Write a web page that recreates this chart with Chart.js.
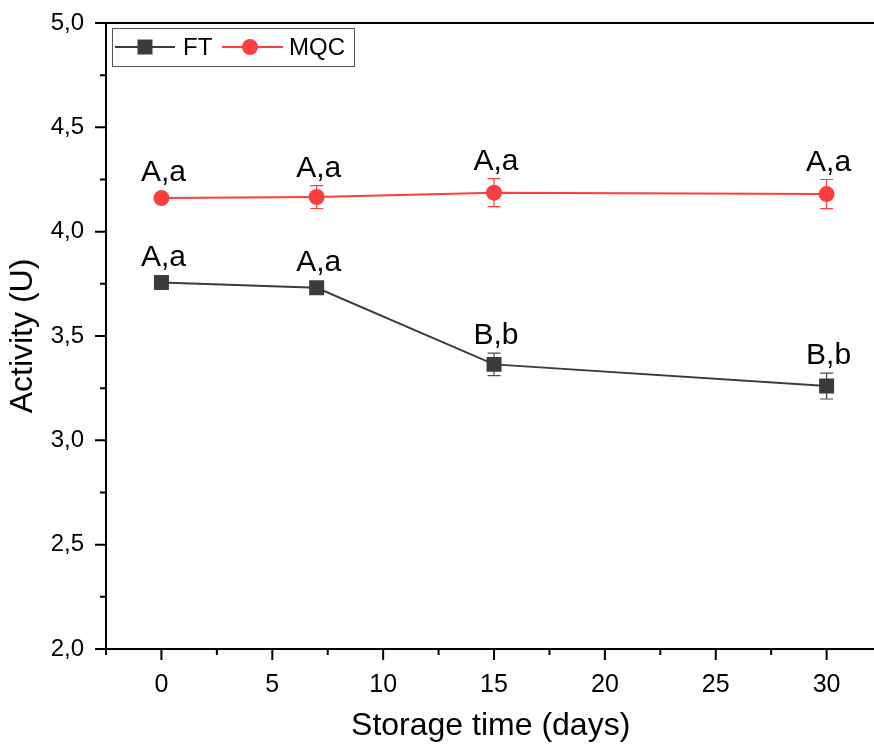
<!DOCTYPE html>
<html>
<head>
<meta charset="utf-8">
<script src="https://cdn.jsdelivr.net/npm/chart.js@4.4.0/dist/chart.umd.min.js"></script>
<style>
  html, body { margin: 0; padding: 0; background: #fff; overflow: hidden; width: 874px; height: 747px; }
  canvas { display: block; }
</style>
</head>
<body>
<canvas id="myChart" width="886" height="747"></canvas>
<script>
// Storage days on the x axis
const days = [0, 7, 15, 30];

// FT series
const ftActivity = [3.756, 3.731, 3.364, 3.26];
const ftError = [0.02, 0.02, 0.054, 0.062];
const ftLetters = ['A,a', 'A,a', 'B,b', 'B,b'];

// MQC series
const mqcActivity = [4.161, 4.166, 4.187, 4.18];
const mqcError = [0.015, 0.055, 0.067, 0.07];
const mqcLetters = ['A,a', 'A,a', 'A,a', 'A,a'];

// Tick labels
const xTickDays = [0, 5, 10, 15, 20, 25, 30];
const xMinorDays = [-2.5, 2.5, 7.5, 12.5, 17.5, 22.5, 27.5];
const yTickValues = [2.0, 2.5, 3.0, 3.5, 4.0, 4.5, 5.0];
const yMinorValues = [2.25, 2.75, 3.25, 3.75, 4.25, 4.75];

const ftColor = '#3b3b3b';
const mqcColor = '#fb3e3e';
const fontFamily = '"Liberation Sans", Arial, sans-serif';

const toPoints = (ys) => days.map((d, i) => ({ x: d, y: ys[i] }));

// Draws axes frame, tick marks, error bars and letter labels
const extrasPlugin = {
  id: 'extras',
  beforeDatasetsDraw(chart) {
    const { ctx, scales: { x, y } } = chart;
    ctx.save();
    ctx.lineWidth = 1.2;
    chart.data.datasets.forEach(ds => {
      ctx.strokeStyle = ds.errorColor;
      ds.data.forEach((p, i) => {
        const px = x.getPixelForValue(p.x);
        const top = y.getPixelForValue(p.y + ds.errors[i]);
        const bot = y.getPixelForValue(p.y - ds.errors[i]);
        ctx.beginPath();
        ctx.moveTo(px, top); ctx.lineTo(px, bot);
        ctx.moveTo(px - 6.5, top); ctx.lineTo(px + 6.5, top);
        ctx.moveTo(px - 6.5, bot); ctx.lineTo(px + 6.5, bot);
        ctx.stroke();
      });
    });
    ctx.restore();
  },
  afterDatasetsDraw(chart) {
    const { ctx, chartArea: a, scales: { x, y } } = chart;
    ctx.save();

    // letters above each point
    ctx.fillStyle = '#000';
    ctx.font = `30px ${fontFamily}`;
    ctx.textAlign = 'center';
    ctx.textBaseline = 'alphabetic';
    chart.data.datasets.forEach(ds => {
      ds.data.forEach((p, i) => {
        const px = x.getPixelForValue(p.x);
        const py = y.getPixelForValue(p.y);
        const top = Math.min(y.getPixelForValue(p.y + ds.errors[i]), py - 8);
        ctx.fillText(ds.letters[i], px + 2, top - 9);
      });
    });

    // axis lines and frame
    ctx.strokeStyle = '#000';
    ctx.lineWidth = 2;
    ctx.beginPath();
    ctx.moveTo(a.left, a.top); ctx.lineTo(a.right, a.top);
    ctx.moveTo(a.left, a.top); ctx.lineTo(a.left, a.bottom);
    ctx.moveTo(a.left, a.bottom); ctx.lineTo(a.right, a.bottom);
    ctx.stroke();

    // tick marks
    ctx.beginPath();
    yTickValues.forEach(v => {
      const py = y.getPixelForValue(v);
      ctx.moveTo(a.left, py); ctx.lineTo(a.left - 11, py);
    });
    yMinorValues.forEach(v => {
      const py = y.getPixelForValue(v);
      ctx.moveTo(a.left, py); ctx.lineTo(a.left - 6, py);
    });
    xTickDays.forEach(v => {
      const px = x.getPixelForValue(v);
      ctx.moveTo(px, a.bottom); ctx.lineTo(px, a.bottom + 11);
    });
    xMinorDays.forEach(v => {
      const px = x.getPixelForValue(v);
      ctx.moveTo(px, a.bottom); ctx.lineTo(px, a.bottom + 6);
    });
    ctx.stroke();

    // legend
    ctx.lineWidth = 1;
    ctx.strokeStyle = '#555';
    ctx.strokeRect(112.5, 28.5, 242, 38);
    ctx.lineWidth = 2;
    ctx.strokeStyle = ftColor;
    ctx.beginPath(); ctx.moveTo(115, 47); ctx.lineTo(175, 47); ctx.stroke();
    ctx.fillStyle = ftColor;
    ctx.fillRect(145 - 7.5, 47 - 7.5, 15, 15);
    ctx.strokeStyle = mqcColor;
    ctx.beginPath(); ctx.moveTo(222, 47); ctx.lineTo(283, 47); ctx.stroke();
    ctx.fillStyle = mqcColor;
    ctx.beginPath(); ctx.arc(250, 47, 8, 0, Math.PI * 2); ctx.fill();
    ctx.fillStyle = '#000';
    ctx.font = `24px ${fontFamily}`;
    ctx.textAlign = 'left';
    ctx.textBaseline = 'middle';
    ctx.fillText('FT', 183, 48);
    ctx.fillText('MQC', 289, 48);

    ctx.restore();
  }
};

const ctx = document.getElementById('myChart').getContext('2d');

new Chart(ctx, {
  type: 'line',
  data: {
    datasets: [
      {
        label: 'FT',
        data: toPoints(ftActivity),
        errors: ftError,
        letters: ftLetters,
        errorColor: '#4a4a4a',
        borderColor: ftColor,
        backgroundColor: ftColor,
        borderWidth: 2,
        pointStyle: 'rect',
        pointRadius: 10.6,
        pointBorderWidth: 0
      },
      {
        label: 'MQC',
        data: toPoints(mqcActivity),
        errors: mqcError,
        letters: mqcLetters,
        errorColor: mqcColor,
        borderColor: mqcColor,
        backgroundColor: mqcColor,
        borderWidth: 2,
        pointStyle: 'circle',
        pointRadius: 8,
        pointBorderWidth: 0
      }
    ]
  },
  options: {
    responsive: false,
    animation: false,
    layout: { padding: { top: 23, right: 0, left: 0, bottom: 0 } },
    plugins: {
      legend: { display: false },
      tooltip: { enabled: false }
    },
    scales: {
      x: {
        type: 'linear',
        min: -2.5,
        max: 32.2,
        grid: { display: false },
        border: { display: false },
        afterBuildTicks: (scale) => { scale.ticks = xTickDays.map(v => ({ value: v })); },
        afterFit: (scale) => {
          scale.height = 98;
          scale.paddingLeft = 0; scale.paddingRight = 0;
          scale.paddingTop = 0; scale.paddingBottom = 0;
        },
        ticks: {
          color: '#000',
          padding: 13,
          maxRotation: 0,
          font: { family: fontFamily, size: 25 },
          callback: (v) => String(v)
        },
        title: {
          display: true,
          text: 'Storage time (days)',
          color: '#000',
          font: { family: fontFamily, size: 32 },
          padding: { top: 0, bottom: 2 }
        }
      },
      y: {
        min: 2,
        max: 5,
        grid: { display: false },
        border: { display: false },
        afterBuildTicks: (scale) => { scale.ticks = yTickValues.map(v => ({ value: v })); },
        afterFit: (scale) => {
          scale.width = 106;
          scale.paddingLeft = 0; scale.paddingRight = 0;
          scale.paddingTop = 0; scale.paddingBottom = 0;
        },
        ticks: {
          color: '#000',
          padding: 14,
          font: { family: fontFamily, size: 24 },
          callback: (v) => v.toFixed(1).replace('.', ',')
        },
        title: {
          display: true,
          text: 'Activity (U)',
          color: '#000',
          font: { family: fontFamily, size: 32 },
          padding: { top: 4, bottom: 0 }
        }
      }
    }
  },
  plugins: [extrasPlugin]
});
</script>
</body>
</html>
